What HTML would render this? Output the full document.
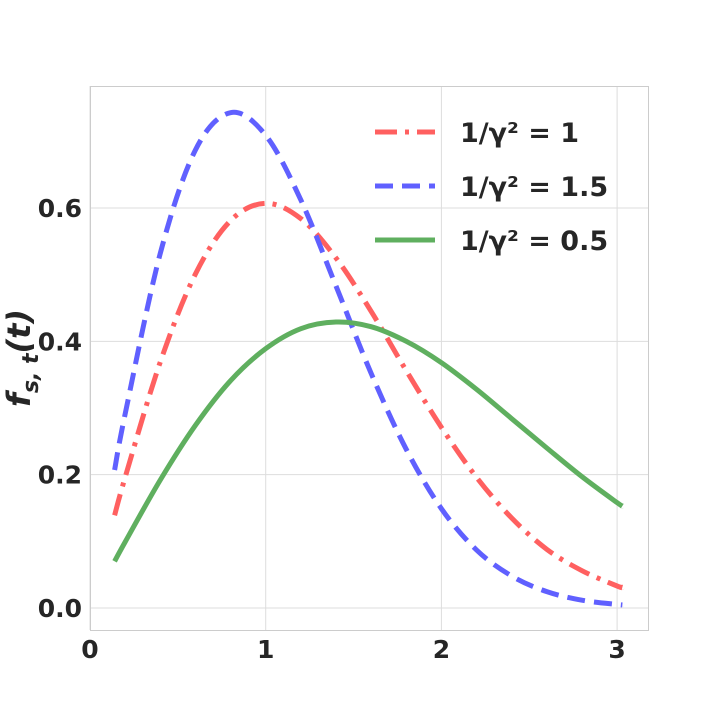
<!DOCTYPE html>
<html><head><meta charset="utf-8"><style>
body{margin:0;background:#fff}
svg text{font-family:"DejaVu Sans","Liberation Sans",sans-serif;fill:#262626;font-weight:bold}
</style></head><body>
<svg id="chart" width="720" height="720" viewBox="0 0 720 720" xmlns="http://www.w3.org/2000/svg">
<g id="grid"></g>
<rect x="90.5" y="86.5" width="558" height="544" fill="none" stroke="#cccccc" stroke-width="1"/>
<g id="ticks"></g>
<g id="series"></g>
<text transform="translate(30,358) rotate(-90)" text-anchor="middle" font-size="32" font-style="italic">f<tspan font-size="22" dy="8">s, t</tspan><tspan dy="-8">(t)</tspan></text>
<g id="legend"></g>
</svg>
<script>
const tVals=[0.14,0.2,0.4,0.6,0.8,1.0,1.2,1.4,1.6,1.8,2.0,2.2,2.4,2.6,2.8,3.0,3.03];
const redVals=[0.139,0.196,0.369,0.501,0.581,0.607,0.584,0.525,0.445,0.356,0.271,0.196,0.135,0.088,0.056,0.033,0.031];
const blueVals=[0.207,0.291,0.532,0.687,0.743,0.709,0.612,0.483,0.352,0.238,0.149,0.087,0.048,0.0245,0.0117,0.0053,0.0047];
const greenVals=[0.070,0.099,0.192,0.274,0.341,0.389,0.419,0.429,0.422,0.400,0.368,0.328,0.284,0.240,0.197,0.158,0.153];
const xTicks=[0,1,2,3];
const yTicks=[0.0,0.2,0.4,0.6];
const legendLabels=["1/γ² = 1","1/γ² = 1.5","1/γ² = 0.5"];
const NS="http://www.w3.org/2000/svg";
function xs(t){return 90+t*175.7;}
function ys(v){return 608-v*666.7;}
function mk(tag,attrs,parent){const e=document.createElementNS(NS,tag);for(const k in attrs)e.setAttribute(k,attrs[k]);parent.appendChild(e);return e;}
const grid=document.getElementById('grid'),ticks=document.getElementById('ticks');
xTicks.forEach(t=>{
  const l=mk('line',{x1:xs(t),x2:xs(t),y1:86,y2:630,stroke:'#dddddd','stroke-width':1},grid);
  
  
  const tx=mk('text',{x:xs(t),y:658,'text-anchor':'middle','font-size':25},ticks);
  tx.textContent=String(t);
  
  
});
yTicks.forEach(v=>{
  const l=mk('line',{x1:90,x2:648,y1:ys(v),y2:ys(v),stroke:'#dddddd','stroke-width':1},grid);
  
  
  const tx=mk('text',{x:82,y:ys(v)+9,'text-anchor':'end','font-size':25},ticks);
  tx.textContent=v.toFixed(1);
  
  
});
function pathFor(vals){
  const p=tVals.map((t,i)=>[xs(t),ys(vals[i])]);
  let d='M'+p[0][0]+','+p[0][1];
  for(let i=0;i<p.length-1;i++){
    const p0=p[Math.max(0,i-1)],p1=p[i],p2=p[i+1],p3=p[Math.min(p.length-1,i+2)];
    const c1=[p1[0]+(p2[0]-p0[0])/6,p1[1]+(p2[1]-p0[1])/6];
    const c2=[p2[0]-(p3[0]-p1[0])/6,p2[1]-(p3[1]-p1[1])/6];
    d+=' C'+c1+' '+c2+' '+p2;
  }
  return d;
}
const ser=document.getElementById('series');
const styles=[
  {vals:redVals,color:'#ff6060',dash:'22,8,4,8',name:'series-gamma-1'},
  {vals:blueVals,color:'#6060ff',dash:'18,9',name:'series-gamma-1-5'},
  {vals:greenVals,color:'#5faf5f',dash:'',name:'series-gamma-0-5'}
];
styles.forEach(s=>{
  const a={d:pathFor(s.vals),fill:'none',stroke:s.color,'stroke-width':5};
  if(s.dash)a['stroke-dasharray']=s.dash;
  const e=mk('path',a,ser);
  
  
});
const leg=document.getElementById('legend');
const ly=[132,186,240];
styles.forEach((s,i)=>{
  const a={x1:375,x2:435,y1:ly[i],y2:ly[i],stroke:s.color,'stroke-width':5};
  if(s.dash)a['stroke-dasharray']=s.dash;
  const l=mk('line',a,leg);
  
  
  const tx=mk('text',{x:460,y:ly[i]+10,'font-size':27},leg);
  tx.textContent=legendLabels[i];
  
  
});
</script>
</body></html>
